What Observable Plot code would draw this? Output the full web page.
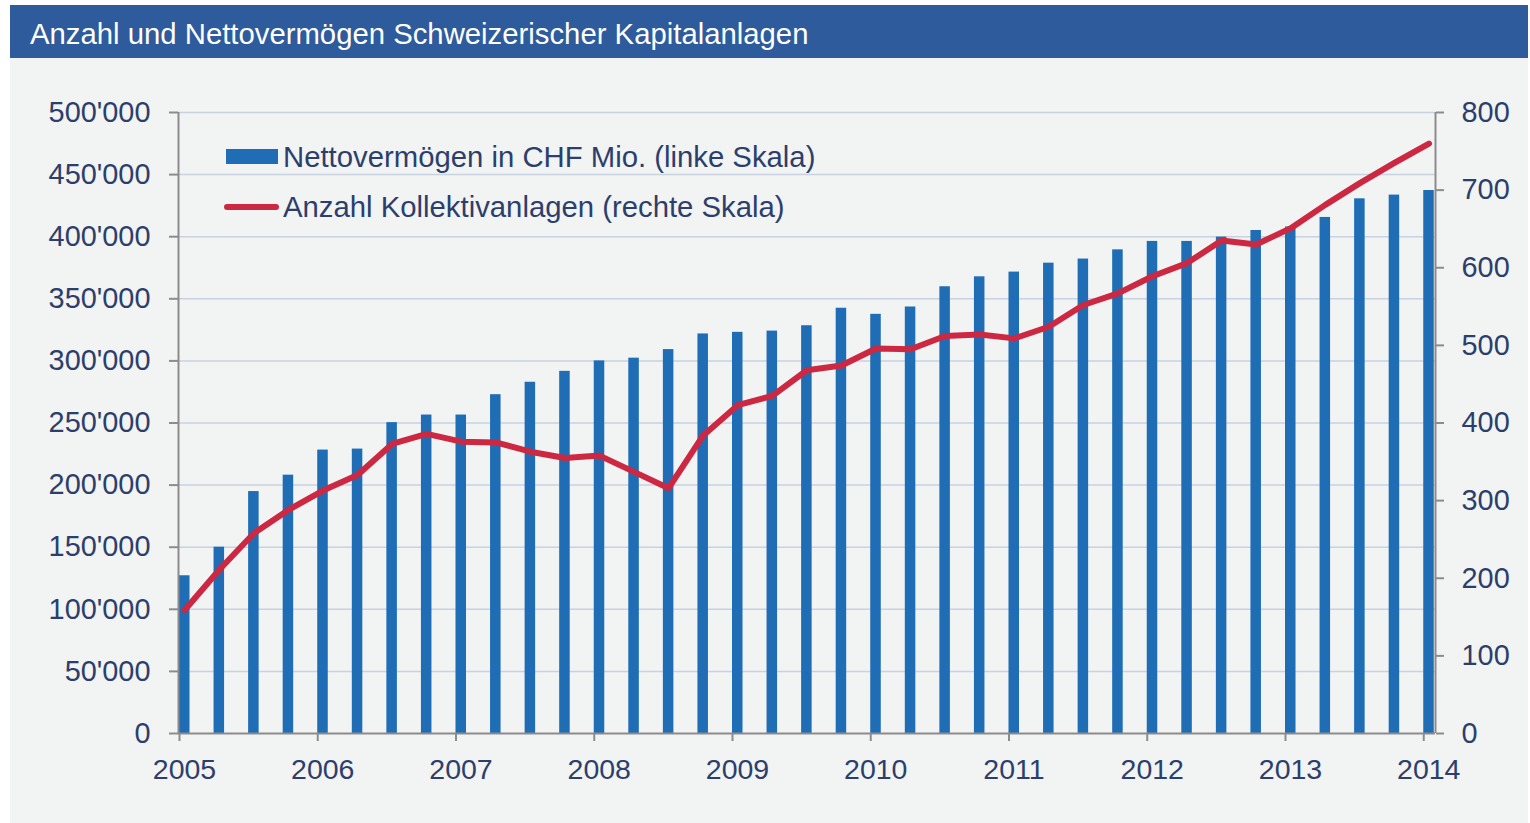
<!DOCTYPE html>
<html>
<head>
<meta charset="utf-8">
<script src="https://cdn.jsdelivr.net/npm/d3@7"></script>
<script src="https://cdn.jsdelivr.net/npm/@observablehq/plot@0.6"></script>
<style>
  html, body { margin: 0; padding: 0; background: #ffffff; width: 1530px; height: 823px; overflow: hidden; }
  body { font-family: "Liberation Sans", Arial, sans-serif; position: relative; }
  #panel { position: absolute; left: 10px; top: 5px; width: 1518px; height: 818px; background: #F2F3F3; }
  #titlebar { position: absolute; left: 10px; top: 5px; width: 1518px; height: 53px; background: #2E5B9C; }
  #title { position: absolute; left: 30px; top: 19px; font-size: 29.3px; line-height: 29px; color: #ffffff; white-space: nowrap; }
  #chart { position: absolute; left: 0; top: 58px; }
  .leg { position: absolute; font-size: 29.3px; line-height: 29px; color: #2C3F6C; white-space: nowrap; }
  .sw-bar { position: absolute; left: 226px; top: 149px; width: 52px; height: 15px; background: #1E6DB5; }
  .sw-line { position: absolute; left: 224px; top: 204px; width: 55px; height: 6px; border-radius: 3px; background: #CD2842; }
</style>
</head>
<body>
<div id="panel"></div>
<div id="titlebar"></div>
<div id="title">Anzahl und Nettovermögen Schweizerischer Kapitalanlagen</div>
<div id="chart"></div>
<div class="sw-bar"></div>
<div class="leg" style="left:283px; top:141.5px;">Nettovermögen in CHF Mio. (linke Skala)</div>
<div class="sw-line"></div>
<div class="leg" style="left:283px; top:191.5px;">Anzahl Kollektivanlagen (rechte Skala)</div>
<script>
// Quarterly data, 2005 Q1 – 2014 Q1
const startYear = 2005;
const nettovermoegen = [
  127000, 150000, 194800, 208000, 228200, 229000, 250300, 256400, 256400, 272800, 282800, 291600,
  300000, 302200, 309100, 321700, 323000, 324000, 328300, 342400, 337500, 343400, 359700, 367700,
  371500, 378700, 382000, 389400, 396200, 396200, 399700, 405000, 407800, 415500, 430500, 433500,
  437200
];
const anzahl = [
  159, 211, 258, 288, 313, 333, 373, 386, 376, 375, 363, 355,
  358, 337, 316, 384, 423, 435, 468, 474, 496, 495, 512, 514,
  509, 524, 552, 567, 589, 606, 635, 630, 651, 681, 709, 735,
  760
];
const yearTicks = [2005, 2006, 2007, 2008, 2009, 2010, 2011, 2012, 2013, 2014];
const leftTicks = [0, 50000, 100000, 150000, 200000, 250000, 300000, 350000, 400000, 450000, 500000];
const rightTicks = [0, 100, 200, 300, 400, 500, 600, 700, 800];
const leftMax = 500000, rightMax = 800;
const ratio = leftMax / rightMax;

const data = nettovermoegen.map((v, i) => ({ t: startYear + i / 4, v, n: anzahl[i] }));

const barW = 0.076;
const xDomain = [startYear - 0.0072, 2014.085];
const navy = "#2C3F6C", gray = "#8C8C8C", grid = "#C8D2E2";
const fmt = d => d3.format(",")(d).replace(/,/g, "'");

const chart = Plot.plot({
  width: 1530,
  height: 765,
  marginLeft: 178,
  marginRight: 95,
  marginTop: 54,
  marginBottom: 90,
  style: { background: "transparent", fontFamily: "Liberation Sans, Arial, sans-serif", fontSize: "28px", color: navy, overflow: "visible" },
  x: { type: "linear", domain: xDomain },
  y: { domain: [0, leftMax] },
  marks: [
    Plot.gridY(leftTicks.slice(1), { stroke: grid, strokeOpacity: 1, strokeWidth: 1.5 }),
    Plot.rectY(data, { x1: "t", x2: d => d.t + barW, y: "v", fill: "#1E6DB5" }),
    Plot.line(data, { x: d => d.t + barW / 2, y: d => d.n * ratio, stroke: "#CD2842", strokeWidth: 6, strokeLinecap: "round", strokeLinejoin: "round" }),
    Plot.ruleX([xDomain[0], xDomain[1]], { stroke: gray, strokeWidth: 2 }),
    Plot.ruleY([0], { stroke: gray, strokeWidth: 2 }),
    Plot.axisY({ ticks: leftTicks, label: null, tickSize: 9, tickPadding: 19, tickFormat: fmt, stroke: gray, strokeWidth: 2, fill: navy, fontSize: 28.9 }),
    Plot.axisY({ anchor: "right", label: null, ticks: rightTicks.map(d => d * ratio), tickSize: 8, tickPadding: 18, tickFormat: d => String(Math.round(d / ratio)), stroke: gray, strokeWidth: 2, fill: navy, fontSize: 28.9 }),
    Plot.axisX({ ticks: yearTicks, label: null, tickSize: 8, tickFormat: () => "", stroke: gray, strokeWidth: 2 }),
    Plot.axisX({ ticks: yearTicks, label: null, tickSize: 0, tickPadding: 25, dx: 5, tickFormat: d => String(d), fill: navy, fontSize: 28.5 })
  ]
});
document.getElementById("chart").appendChild(chart);
</script>
</body>
</html>
